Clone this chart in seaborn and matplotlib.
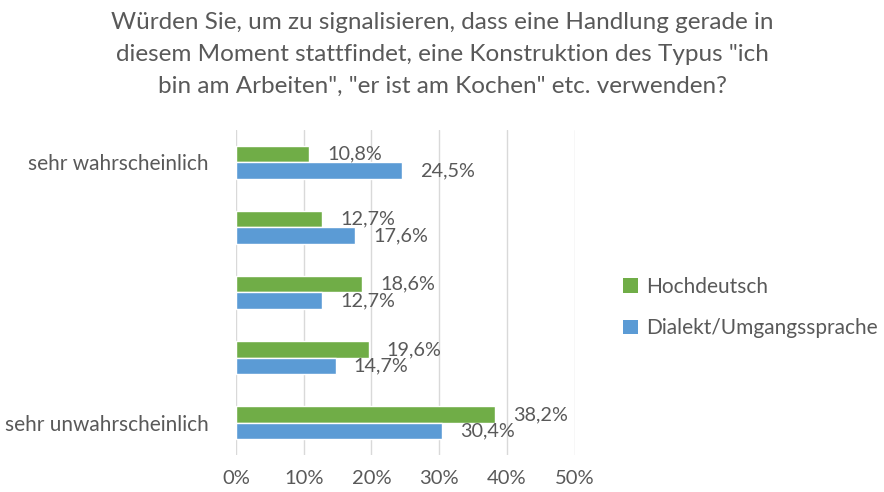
import matplotlib
matplotlib.use("Agg")
import matplotlib.pyplot as plt
import seaborn as sns
import pandas as pd
from matplotlib.patches import Patch

categories = ["sehr wahrscheinlich", "k2", "k3", "k4", "sehr unwahrscheinlich"]
tick_labels = ["sehr wahrscheinlich", "", "", "", "sehr unwahrscheinlich"]
series = ["Hochdeutsch", "Dialekt/Umgangssprache"]
hochdeutsch = [10.8, 12.7, 18.6, 19.6, 38.2]
dialekt = [24.5, 17.6, 12.7, 14.7, 30.4]
x_ticks = [0, 10, 20, 30, 40, 50]
title = ('Würden Sie, um zu signalisieren, dass eine Handlung gerade in\n'
         'diesem Moment stattfindet, eine Konstruktion des Typus "ich\n'
         'bin am Arbeiten", "er ist am Kochen" etc. verwenden?')

colors = {"Hochdeutsch": "#70AD47", "Dialekt/Umgangssprache": "#5B9BD5"}
text_color = "#595959"

df = pd.DataFrame({
    "Kategorie": categories * 2,
    "Serie": [series[0]] * 5 + [series[1]] * 5,
    "Wert": hochdeutsch + dialekt,
})

sns.set_theme(style="white")
plt.rcParams["font.family"] = ["Lato", "DejaVu Sans"]

fig = plt.figure(figsize=(8.84, 4.92), dpi=100)
ax = fig.add_axes([0.267, 0.075, 0.383, 0.661])

sns.barplot(data=df, y="Kategorie", x="Wert", hue="Serie", order=categories,
            hue_order=series, palette=colors, orient="h", width=0.5,
            saturation=1, ax=ax, legend=False)

ax.set_xlim(0, 50)
ax.set_xticks(x_ticks)
ax.set_xticklabels([f"{t}%" for t in x_ticks], fontsize=14.5, color=text_color)
ax.set_yticks(range(len(categories)))
ax.set_yticklabels(tick_labels, fontsize=15, color=text_color)
ax.tick_params(axis="both", length=0)
ax.tick_params(axis="y", pad=20)
ax.tick_params(axis="x", pad=11)
ax.set_xlabel("")
ax.set_ylabel("")
ax.grid(axis="x", color="#D9D9D9", linewidth=1)
ax.set_axisbelow(True)
for s in ax.spines.values():
    s.set_visible(False)

for container in ax.containers:
    labels = [f"{v:.1f}%".replace(".", ",") for v in container.datavalues]
    ax.bar_label(container, labels=labels, padding=13, fontsize=14.3, color=text_color)

fig.text(0.5, 0.975, title, ha="center", va="top", fontsize=17.5,
         color=text_color, linespacing=1.62)

handles = [Patch(facecolor=colors[s], edgecolor="none") for s in series]
fig.legend(handles, series, loc="center left", bbox_to_anchor=(0.705, 0.375),
           frameon=False, fontsize=15, labelcolor=text_color, handlelength=0.7,
           handleheight=0.7, handletextpad=0.4, labelspacing=1.05,
           borderaxespad=0, borderpad=0)

fig.savefig("out.png", dpi=100)
